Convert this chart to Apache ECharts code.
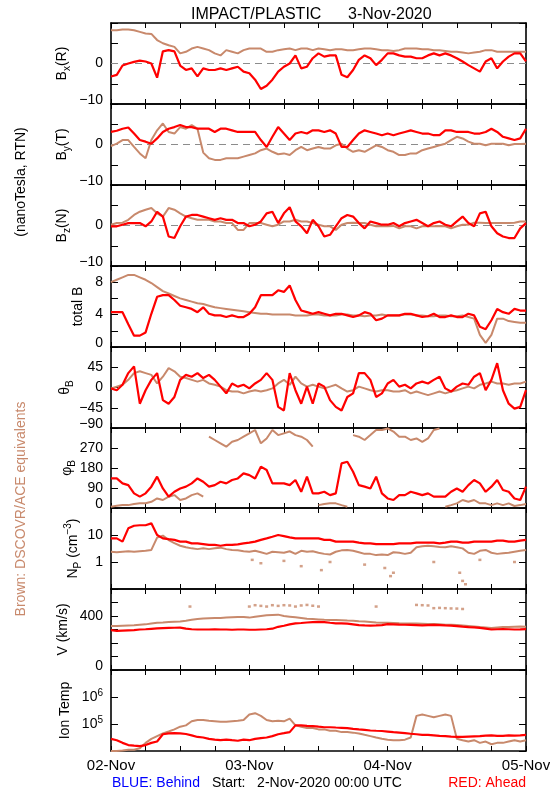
<!DOCTYPE html>
<html><head><meta charset="utf-8">
<script src="https://cdn.jsdelivr.net/npm/echarts@6/dist/echarts.min.js"></script>
<style>html,body{margin:0;padding:0;background:#fff}#c{width:550px;height:800px}</style>
</head><body><div id="c"></div>
<script>
// ---- time axis (hours after 2-Nov-2020 00:00 UTC) ----
const hours = [0,1,2,3,4,5,6,7,8,9,10,11,12,13,14,15,16,17,18,19,20,21,22,23,24,25,26,27,28,29,30,31,32,33,34,35,36,37,38,39,40,41,42,43,44,45,46,47,48,49,50,51,52,53,54,55,56,57,58,59,60,61,62,63,64,65,66,67,68,69,70,71,72];
const dayLabels = ['02-Nov','03-Nov','04-Nov','05-Nov'];

// ---- Bx(R) nT ----
const bxRed = [-3.2,-2.8,-0.5,0,0.4,0.7,0.5,0,-3.5,3.0,3.3,3.0,-0.5,-1.6,-1.2,-3.2,-1.2,-1.6,-1.6,-1.2,-1.6,-1.2,-0.8,-2,-2.4,-4,-6.3,-5.5,-4,-2,-0.8,0,2,-1.2,-0.8,1.3,2.5,1.7,2,2,-2.8,-3.4,-1.6,0.9,2,1.3,-0.4,0.9,2.5,2.5,2,1.7,1.7,1.3,1.3,2,2.5,2,2.5,2,1.3,0.5,-0.4,-1.2,-2,0.5,1.3,-1.2,0.5,1.7,2.5,2.5,0.5];
const bxBrown = [8.2,8.2,8.4,8.4,8.2,7.8,7.4,7.3,5.8,5,4.5,4.1,2.5,2.9,3.7,4.1,3.7,3.3,2.5,2,3.3,2.9,2.5,3.3,3.7,3.7,3.7,2.9,2.9,3.3,3.5,3.7,3.3,3.7,3.7,3.3,3.7,3.5,3.3,3.5,3.5,3.3,3.3,3.5,3.7,3.7,3.5,3.3,3.3,3.1,3.3,3.7,3.7,3.7,3.5,3.5,3.3,3.3,3.1,2.9,2.9,2.7,2.5,2.7,2.9,3.3,3.3,2.9,2.9,2.9,2.9,2.9,2.9];
// ---- By(T) nT ----
const byRed = [3.1,3.4,3.9,4.2,2.7,1.1,0.7,0.2,1.5,3.1,3.9,4.3,4.8,4.3,4.3,3.9,3.9,3.9,3.1,3.9,3.9,3.5,3.1,3.1,3.1,3.1,1.1,-0.6,1.9,4.3,2.7,1.1,2.7,3.1,2.7,3.5,3.5,3.1,3.5,2.7,-0.6,-0.6,1.1,2.7,3.5,3.1,2.7,2.3,2.7,2.3,2.7,3.1,3.5,3.1,2.7,2.7,2.3,2.3,3.5,3.5,3.1,3.1,3.1,2.7,2.7,3.1,3.9,3.1,1.9,1.5,1.1,1.5,3.9];
const byBrown = [-0.4,0.2,1.1,1.1,-0.6,-2.2,-3.4,1.1,3.5,5.2,3.1,2.7,4.3,3.9,4.8,3.9,-2.0,-3.4,-3.8,-3.8,-3.4,-3.4,-3.4,-3.0,-2.6,-2.2,-1.4,-1.0,-1.8,-2.4,-2.2,-2.6,-1.4,-0.6,-1.4,-1,-0.6,-1,-1,-0.2,0.2,-1,-1.8,-1.4,-1.8,-1,-0.2,-0.6,-1.4,-1.8,-2.6,-2.6,-2.2,-2.2,-1.4,-1,-0.6,-0.2,0.2,1.1,1.9,1.5,0.7,0.2,0.2,-0.2,0.2,0.2,0.2,-0.2,0.1,0.1,0.2];
// ---- Bz(N) nT ----
const bzRed = [-0.2,-0.2,0.2,0.6,0.6,0.6,-0.2,1.0,3.4,2.2,-2.7,-3.1,-0.2,2.2,2.6,2.6,2.2,1.8,1.4,1.8,1.4,1.4,0.6,0.6,-0.2,0.2,1.0,3.0,3.4,0.6,3,4.5,1,-0.2,-1.9,1.4,-0.2,-2.7,-2.3,-0.2,1.8,2.6,2.2,0.6,-0.7,1,0.6,0.2,0.2,0.6,-0.2,0.6,1,1.4,0.6,-0.2,0.6,1,0.2,-0.2,1,2.2,0.6,-0.2,3,3.4,-0.2,-1.9,-2.7,-3.1,-3.1,-0.7,0.6];
const bzBrown = [0.2,0.6,0.7,1.4,2.6,3.4,3.9,4.3,3.0,2.2,4.3,3.9,3.0,2.2,1.8,1.4,1.4,1.4,1.0,1.0,0.6,0.6,-1.1,-1.1,0.6,0.6,0.6,0.2,-0.2,0.2,1,1,1.4,1,1,0.6,0.2,-0.2,-0.2,-1.1,0.2,0.6,0.7,0.6,0.6,0.2,-0.2,-0.2,-0.2,-0.1,-0.7,-0.2,-0.2,-0.7,-0.2,-0.2,-0.2,-0.1,-0.2,-0.7,-0.2,0.2,0.2,0.7,0.7,0.6,0.6,0.6,0.6,0.6,0.7,1,1];
// ---- total B nT ----
const btRed = [4.3,4.3,4.3,2.8,1.4,1.4,1.8,4.1,6.2,6.4,6.4,5.8,5.1,4.9,4.7,4.3,4.9,4.1,3.9,3.9,3.7,3.9,3.7,3.7,4.1,4.9,6.4,6.4,6.4,7.0,6.8,7.6,5.8,4.5,4.3,4.1,4.3,4.1,3.9,4.1,4.1,3.9,3.7,3.9,4.3,4.1,3.3,3.5,3.9,3.9,3.9,4.1,4.1,3.9,3.7,3.8,4.1,3.7,3.7,3.9,3.7,3.7,4.1,3.9,2.5,2.2,3.3,4.7,4.3,4.1,4.7,4.5,4.5];
const btBrown = [8.0,8.3,8.6,8.9,8.9,8.6,8.3,7.9,7.4,6.9,6.6,6.3,6.0,5.8,5.6,5.4,5.3,5.1,4.9,4.8,4.7,4.6,4.5,4.4,4.3,4.2,4.1,4.1,4.0,4.0,4.0,4.0,3.9,3.9,3.9,4.0,4.0,3.9,3.9,3.9,4.0,4.0,3.9,3.9,3.8,3.9,3.9,4.0,3.9,3.9,3.9,4.0,4.0,3.9,3.9,3.8,3.8,3.9,3.9,3.8,3.8,3.9,3.7,3.5,1.5,0.5,1.5,3.5,3.5,3.2,3.1,3.0,3.0];
// ---- theta_B deg ----
const thRed = [-2,-6,6,32,47,-36,-6,17,32,-28,-36,-21,17,28,24,32,21,28,17,2,-13,9,2,6,-2,9,17,32,17,-43,-51,32,-6,-36,2,-36,9,2,-28,-43,-51,-21,-13,32,32,17,-21,-13,9,17,2,6,-2,9,13,9,17,24,-2,-9,2,9,6,24,32,-6,17,54,-6,-36,-47,-43,-6];
const thBrown = [-2,2,6,17,32,36,32,28,9,24,43,36,24,21,17,13,17,9,6,2,-6,-9,-9,-13,-9,-6,-9,-6,-2,9,17,6,24,9,2,6,2,-2,2,6,-2,-9,-6,2,-2,-6,-9,-6,-6,-9,-9,-6,-13,-9,-13,-17,-13,-9,-13,-9,-6,-2,2,-2,6,9,13,9,9,6,9,9,13];
// ---- phi_B deg ----
const phRed = [133,133,111,103,66,51,66,96,141,88,51,73,88,96,111,133,118,96,103,118,111,126,133,156,148,133,186,171,111,111,111,103,126,73,141,66,66,73,58,66,201,208,163,103,96,88,141,66,43,36,58,58,73,66,58,66,51,51,51,73,88,73,103,126,111,73,96,126,81,73,43,36,96];
const phBrown = [6,10,13,13,18,21,21,28,43,36,51,58,36,43,58,66,51,321,306,291,276,298,306,321,336,351,291,313,351,328,336,344,328,321,306,276,13,18,21,21,13,6,328,321,306,328,351,351,358,344,321,321,306,313,298,313,351,358,6,13,21,36,28,36,21,21,13,21,13,21,9,13,18];
// ---- Np cm^-3 ----
const npRed = [7.5,7.5,5.7,17.6,22,23,23,27,10,7.5,7.0,6.6,5.7,5.7,4.9,4.9,4.6,4.3,4.3,4.0,4.3,4.3,4.5,4.9,5.2,5.7,6.6,7.5,8.6,10,9.1,8.2,7.5,7.5,7.5,7.5,7.5,6.6,6.6,5.7,5.7,5.7,5.7,5.2,4.9,4.9,4.6,4.6,4.6,4.6,4.9,4.9,4.9,5.2,5.2,5.2,5.2,4.9,5.2,5.7,5.7,5.2,5.2,5.7,5.7,5.7,5.7,6.2,6.2,5.7,5.7,6.2,6.6];
const npBrown = [2.4,2.3,2.4,2.5,2.4,2.5,2.6,2.8,8,9.5,6.5,5,4,3.5,3.2,3.0,3.2,3.0,3.2,3.4,3.0,2.8,2.7,2.5,2.4,2.6,2.3,2.0,2.4,2.3,2.2,2.5,2.0,2.6,2.4,2.5,2.2,2.0,1.9,2.4,2.7,2.8,2.6,2.3,2.0,2.0,1.8,1.9,1.8,2.3,2.2,2.0,2.2,3.5,3.8,4.0,3.8,3.6,3.5,3.8,3.5,3.2,2.2,2.0,2.6,2.8,2.2,2.0,2.1,2.2,2.4,2.6,2.8];
const npBrownLowH = [24.5,26,30,33,36.5,38,44,47.5,48.5,49,56,60.5,61,61.5,64,70];
const npBrownLowV = [1.2,0.9,1.1,0.7,0.5,1.0,0.8,0.6,0.3,0.4,1.0,0.4,0.2,0.15,1.2,1.0];
// ---- V km/s ----
const vRed = [296,290,292,294,296,300,302,305,308,310,312,313,314,306,302,300,300,300,302,300,300,298,300,300,298,298,300,302,306,320,328,338,345,348,352,355,356,355,350,346,345,343,338,333,330,328,330,333,340,338,336,335,334,333,330,332,334,333,330,328,325,321,318,316,312,306,300,302,303,302,300,301,303];
const vBrown = [326,326,328,330,332,335,338,345,350,352,355,358,360,365,372,378,382,384,385,386,388,390,392,392,388,395,400,405,408,410,400,395,390,385,380,378,375,372,370,370,368,366,365,362,360,356,352,350,350,348,346,345,345,344,342,340,340,338,336,335,333,330,326,322,318,315,312,315,318,318,320,322,320];
const vBrownHighH = [13.7,24,25,26,27,28,29,30,31,32,33,34,35,36,46,53,54,55,56,57,58,59,60,61];
const vBrownHighV = [470,470,480,475,470,480,475,480,478,470,478,482,476,470,470,482,480,478,458,460,458,456,455,452];
// ---- Ion temperature K ----
const tRed = [28000,25000,20000,16600,15800,15100,16600,20000,22400,41700,44700,45700,44700,42700,38000,33100,31600,28200,26300,25100,26300,25100,24000,26300,25100,28200,30200,31600,35500,41700,45700,50100,89100,89100,85100,83200,79400,75900,75900,74100,72400,70800,66100,63100,60300,57500,56200,55000,52500,50100,47900,45700,43600,41700,39800,39800,38000,36300,35500,33900,33100,33100,33900,34700,35500,37200,38000,36300,36300,38000,37200,38000,39800];
const tBrown = [10000,10000,10500,11200,11200,12600,20000,28200,35500,44700,52500,63100,79400,89100,126000,141000,141000,132000,126000,120000,120000,126000,132000,141000,224000,251000,200000,141000,126000,132000,126000,158000,89100,79400,70800,70800,63100,63100,56200,56200,50100,50100,47900,44700,39800,35500,31600,28200,26300,25100,25100,26300,31600,200000,224000,200000,178000,200000,224000,200000,28200,25100,22400,25100,20000,22400,17800,20000,20000,22400,25100,22400,25100];

// ---------------- rendering ----------------
const FONT = 'Liberation Sans';
const RED = '#ff0000', BROWN = '#c8896c';
const tops = [23,104,185,266,347,428,508,589,670,751];
const pairs = arr => arr.map((v,i)=>[hours[i], v]);
const zip = (h,v) => h.map((x,i)=>[x, v[i]]);
function wrapBreak(arr){
  const out=[];
  arr.forEach((v,i)=>{ if(i>0 && Math.abs(v-arr[i-1])>180) out.push([hours[i]-0.5,'-']); out.push([hours[i],v]); });
  return out;
}
const minus = s => String(s).replace('-', '\u2212');

const panels = [
  {name:'{b|B}{s|x}{b|(R)}', type:'value', min:-10, max:10, interval:5, labels:[0,-10], gap:39, red:pairs(bxRed), brown:pairs(bxBrown), zero:true},
  {name:'{b|B}{s|y}{b|(T)}', type:'value', min:-10, max:10, interval:5, labels:[0,-10], gap:39, red:pairs(byRed), brown:pairs(byBrown), zero:true},
  {name:'{b|B}{s|z}{b|(N)}', type:'value', min:-10, max:10, interval:5, labels:[0,-10], gap:39, red:pairs(bzRed), brown:pairs(bzBrown), zero:true},
  {name:'{b|total B}', type:'value', min:0, max:10, interval:2, labels:[0,4,8], gap:23, red:pairs(btRed), brown:pairs(btBrown)},
  {name:'{b|\u03b8}{s|B}', type:'value', min:-90, max:90, interval:45, labels:[-90,-45,0,45], gap:36, red:pairs(thRed), brown:pairs(thBrown)},
  {name:'{b|\u03c6}{s|B}', type:'value', min:0, max:360, interval:90, labels:[0,90,180,270], gap:34, red:pairs(phRed), brown:wrapBreak(phBrown)},
  {name:'{b|N}{s|P}{b| (cm}{p|\u22123}{b|)}', type:'log', min:0.1, max:100, labels:[1,10], gap:28, red:pairs(npRed), brown:pairs(npBrown), extra:zip(npBrownLowH,npBrownLowV)},
  {name:'{b|V (km/s)}', type:'value', min:0, max:600, interval:100, labels:[0,400], gap:38, red:pairs(vRed), brown:pairs(vBrown), extra:zip(vBrownHighH,vBrownHighV)},
  {name:'{b|Ion Temp}', type:'log', min:1e4, max:1e7, labels:[1e5,1e6], gap:36, red:pairs(tRed), brown:pairs(tBrown), sup:true}
];

const grid=[], xAxis=[], yAxis=[], series=[];
const richName = {
  b:{fontSize:14, fontFamily:FONT, color:'#000', lineHeight:20, verticalAlign:'middle'},
  s:{fontSize:10, fontFamily:FONT, color:'#000', lineHeight:20, verticalAlign:'bottom'},
  p:{fontSize:10, fontFamily:FONT, color:'#000', lineHeight:20, verticalAlign:'top'}
};
const labRich = {
  sup:{fontSize:10, fontFamily:FONT, color:'#000', verticalAlign:'top', lineHeight:18},
  n:{fontSize:14, fontFamily:FONT, color:'#000', lineHeight:18},
  lo:{fontSize:14, fontFamily:FONT, color:'#000', padding:[0,0,8,0]}
};
const axisLine = {show:true, onZero:false, lineStyle:{color:'#000', width:1.6}};
panels.forEach((p,i)=>{
  const top = tops[i], h = tops[i+1]-tops[i];
  grid.push({left:111, width:415, top:top, height:h, outerBoundsMode:'none', containLabel:false});
  const last = i===panels.length-1;
  xAxis.push({gridIndex:i, type:'value', min:0, max:72, interval:6, position:'bottom',
    axisLine, splitLine:{show:false},
    axisTick:{show:true, inside:true, length:5, lineStyle:{color:'#000'}},
    axisLabel:{show:last, margin:7, fontSize:15, fontFamily:FONT, color:'#000',
      formatter:v=> (v%24===0 ? dayLabels[v/24] : '')}});
  xAxis.push({gridIndex:i, type:'value', min:0, max:72, interval:6, position:'top',
    axisLine, splitLine:{show:false},
    axisTick:{show:true, inside:true, length:5, lineStyle:{color:'#000'}},
    axisLabel:{show:false}});
  const isLab = v => p.labels.some(l => Math.abs(v-l) <= Math.abs(l)*1e-6 + 1e-9);
  const yBase = {gridIndex:i, type:p.type, min:p.min, max:p.max, splitLine:{show:false},
    axisLine, axisTick:{show:true, inside:true, length:7, lineStyle:{color:'#000'}}};
  if(p.type==='value') yBase.interval = p.interval; else yBase.logBase = 10;
  yAxis.push(Object.assign({}, yBase, {position:'left',
    name:p.name, nameLocation:'middle', nameGap:p.gap, nameRotate:90, nameMoveOverlap:false,
    nameTextStyle:{rich:richName, fontFamily:FONT, fontSize:14, color:'#000'},
    axisLabel:{show:true, margin:8, fontSize:14, fontFamily:FONT, color:'#000', rich:labRich,
      formatter:v=>{
        if(!isLab(v)) return '';
        if(p.sup){ return '{n|10}{sup|'+Math.round(Math.log10(v))+'}'; }
        if(p.type==='log') return String(Math.round(v));
        if(Math.abs(v-p.min)<1e-9) return '{lo|'+minus(v)+'}';
        return minus(v);
      }}}));
  yAxis.push(Object.assign({}, yBase, {position:'right', axisLabel:{show:false}}));

  const brownSeries = {type:'line', xAxisIndex:2*i, yAxisIndex:2*i, data:p.brown, showSymbol:false, symbol:'none',
    lineStyle:{color:BROWN, width:2}, z:2, silent:true, connectNulls:false};
  if(p.zero){
    brownSeries.markLine = {silent:true, symbol:'none', label:{show:false},
      lineStyle:{color:'#8c8c8c', type:[7,5], width:1.2}, data:[{yAxis:0}], z:1};
  }
  series.push(brownSeries);
  if(p.extra){
    series.push({type:'scatter', xAxisIndex:2*i, yAxisIndex:2*i, data:p.extra, symbol:'rect', symbolSize:[3,2.5],
      itemStyle:{color:BROWN}, z:2, silent:true});
  }
  series.push({type:'line', xAxisIndex:2*i, yAxisIndex:2*i, data:p.red, showSymbol:false, symbol:'none',
    lineStyle:{color:RED, width:2.2}, z:3, silent:true});
});

const txt = (t, x, y, color, size, rot, align) => ({type:'text', x, y, rotation:rot||0, silent:true,
  style:{text:t, fill:color, font:size+'px "'+FONT+'"', align:align||'center', verticalAlign:'middle',
         textAlign:align||'center', textVerticalAlign:'middle'}});

const option = {
  animation:false, backgroundColor:'#fff',
  title:{text:'IMPACT/PLASTIC      3-Nov-2020', left:186, top:2, textAlign:'left',
    textStyle:{fontFamily:FONT, fontSize:16, fontWeight:'normal', color:'#000'}},
  grid, xAxis, yAxis, series,
  graphic:[
    txt('(nanoTesla, RTN)', 21, 182, '#000', 14, Math.PI/2),
    txt('Brown: DSCOVR/ACE equivalents', 21, 509, BROWN, 14, Math.PI/2),
    txt('BLUE: Behind', 112, 783, '#0000ff', 14, 0, 'left'),
    txt('Start:   2-Nov-2020 00:00 UTC', 212, 783, '#000', 14, 0, 'left'),
    txt('RED: Ahead', 526, 783, '#ff0000', 14, 0, 'right')
  ]
};
const chart = echarts.init(document.getElementById('c'), null, {renderer:'canvas'});
chart.setOption(option);
</script></body></html>
